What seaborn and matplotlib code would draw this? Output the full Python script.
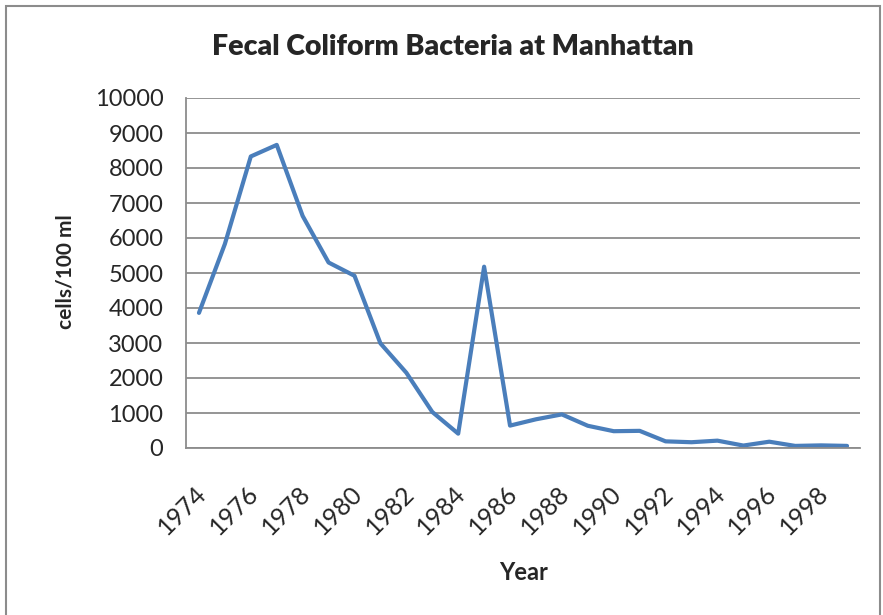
import matplotlib
matplotlib.use("Agg")
import matplotlib.pyplot as plt
import numpy as np
import pandas as pd
import seaborn as sns
from matplotlib.patches import Rectangle

years = list(range(1974, 2000))
counts = [3860, 5830, 8330, 8660, 6630, 5300, 4920, 2990, 2150, 1030,
          410, 5180, 640, 820, 960, 635, 480, 490, 190, 165,
          210, 70, 180, 60, 75, 60]

df = pd.DataFrame({"pos": np.arange(len(years)), "year": years, "cells": counts})

sns.set_style("white")
plt.rcParams["font.family"] = ["Lato", "DejaVu Sans"]

fig = plt.figure(figsize=(8.83, 6.15), dpi=100)
ax = fig.add_axes([186 / 883, 1 - 448 / 615, (860 - 186) / 883, (448 - 98) / 615])

grid_c = "#8c8c8c"
sns.lineplot(data=df, x="pos", y="cells", ax=ax, color="#4a7ebb", linewidth=3.0,
             solid_capstyle="round", solid_joinstyle="round")

ax.set_xlim(-0.5, len(years) - 0.5)
ax.set_ylim(0, 10000)
ax.set_yticks(range(0, 10001, 1000))
ax.yaxis.grid(True, color=grid_c, linewidth=1.3)
ax.set_axisbelow(True)

# category boundaries as major ticks, labels on every other year
ax.set_xticks(np.arange(-0.5, len(years), 1.0))
ax.set_xticklabels([])
lab_pos = df["pos"][::2] + 0.15
ax.set_xticks(lab_pos, minor=True)
ax.set_xticklabels([str(y) for y in df["year"][::2]], minor=True,
                   rotation=45, ha="right", va="center", rotation_mode="anchor", fontsize=18)
ax.tick_params(axis="x", which="major", direction="out", length=5, width=1.3, color=grid_c)
ax.tick_params(axis="x", which="minor", length=0, pad=30)
ax.tick_params(axis="y", direction="out", length=4.3, width=1.3, color=grid_c, labelsize=17, pad=12)

for s in ["top", "right"]:
    ax.spines[s].set_visible(False)
for s in ["left", "bottom"]:
    ax.spines[s].set_color(grid_c)
    ax.spines[s].set_linewidth(1.3)

ax.set_xlabel("Year", fontsize=17, fontweight="bold")
ax.xaxis.set_label_coords((524 - 186) / 674, -(572 - 448) / 350)
ax.xaxis.label.set_va("center")
ax.set_ylabel("cells/100 ml", fontsize=15, fontweight="bold")
ax.yaxis.set_label_coords(-(186 - 66) / 674, (448 - 272) / 350)
ax.yaxis.label.set_va("center")
fig.text(453 / 883, 1 - 47 / 615, "Fecal Coliform Bacteria at Manhattan",
         ha="center", va="center", fontsize=20.5, fontweight="heavy")

fig.patches.append(Rectangle((6 / 883, -0.05), 874 / 883, 1 - 6 / 615 + 0.05,
                             transform=fig.transFigure, fill=False,
                             edgecolor="#8c8c8c", linewidth=1.5))

fig.savefig("out.png", dpi=100)
